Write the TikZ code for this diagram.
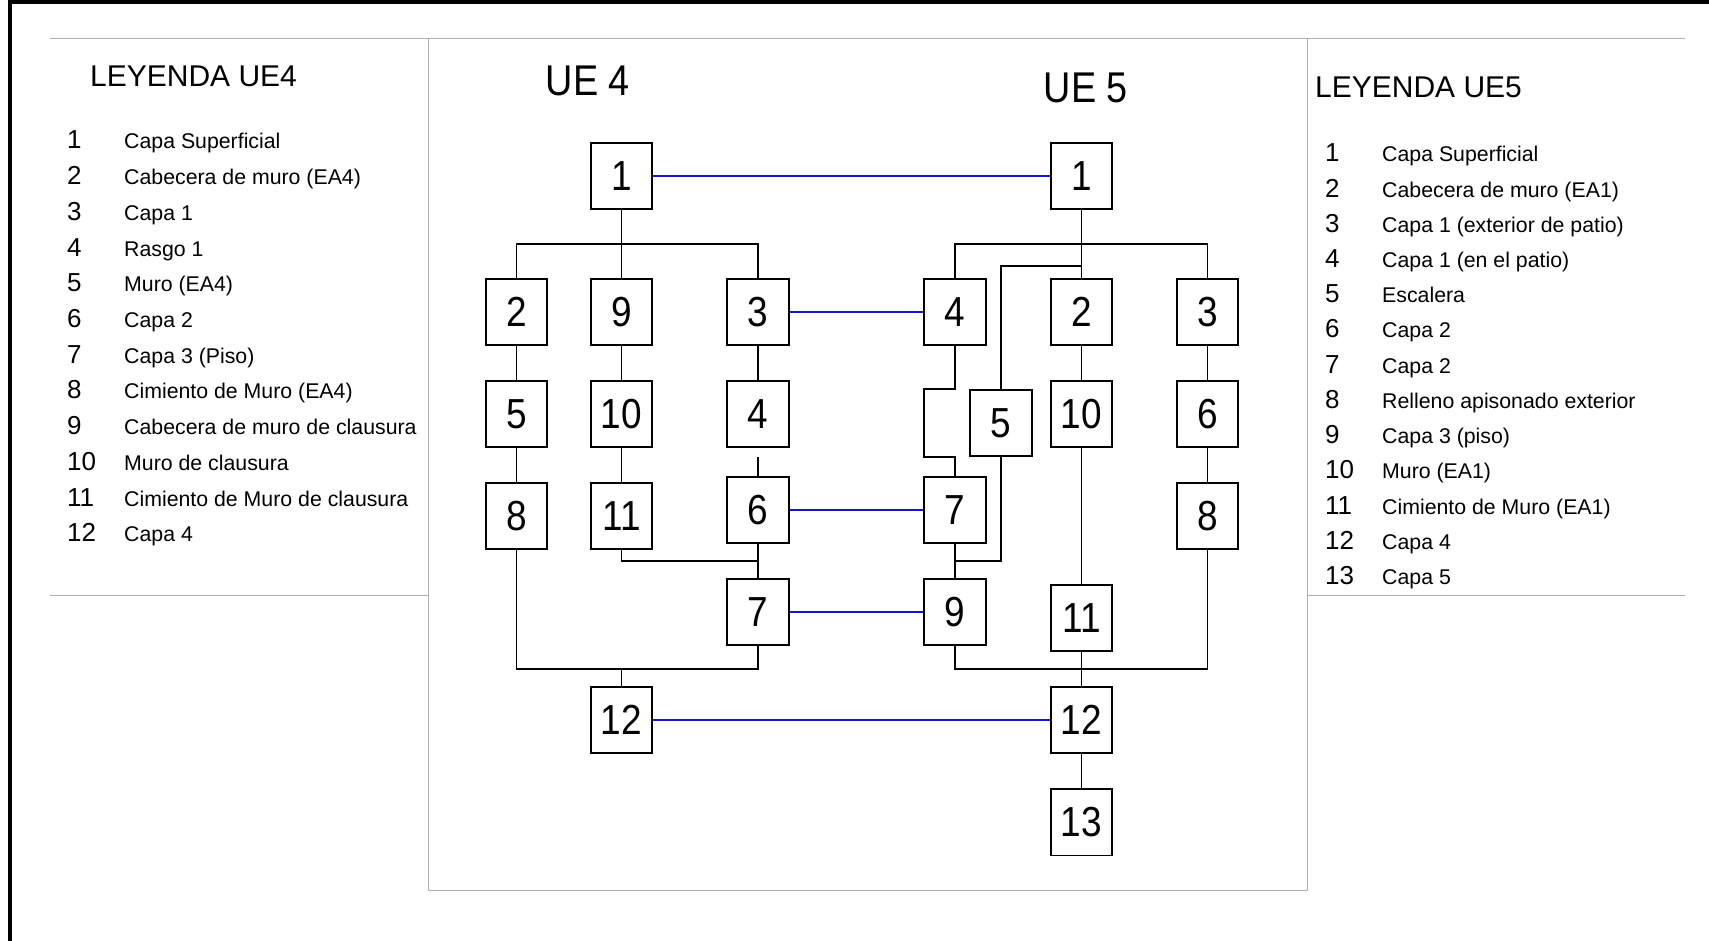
\documentclass[tikz,border=0pt]{standalone}
\usepackage{fontspec}
\setmainfont{Liberation Sans}
\newfontfamily\boxfont[FakeStretch=0.88]{Liberation Sans}
\usepackage{tikz}
\usetikzlibrary{positioning}
\definecolor{linkblue}{RGB}{20, 20, 200}
\definecolor{panelgray}{RGB}{175, 175, 175}
\newcommand{\legnum}[1]{\makebox[57pt][l]{\fontsize{26}{26}\selectfont #1}}

\begin{document}
\begin{tikzpicture}[
    x=1pt, y=-1pt,
    box/.style={draw=black, line width=1.6pt, fill=white, minimum width=61.5pt, minimum height=66.5pt, inner sep=0pt, font=\boxfont\fontsize{42}{42}\selectfont},
    ueTitle/.style={anchor=base, inner sep=0pt, font=\boxfont\fontsize{43}{43}\selectfont},
    legTitle/.style={anchor=base west, inner sep=0pt, font=\fontsize{30}{30}\selectfont},
    legItem/.style={anchor=base west, inner sep=0pt, font=\fontsize{21.3}{25}\selectfont},
    link/.style={draw=black, line width=1.6pt},
    tie/.style={draw=linkblue, line width=1.6pt},
    panel/.style={draw=panelgray, line width=1pt}
]
\useasboundingbox (0,0) rectangle (1709,941);

% Frame and panels
\draw[line width=4pt] (10,941) -- (10,2) -- (1709,2);
\draw[panel] (50,39) -- (1685,39);
\draw[panel] (50,595) -- (428,595);
\draw[panel] (1307,595) -- (1685,595);
\draw[panel] (428,39) -- (428,890) -- (1307,890) -- (1307,39);

% Legend UE4
\node[legTitle] (legA) at (90,87) {LEYENDA UE4};
\node[legItem] (la1) at (67,149) {\legnum{1}Capa Superficial};
\node[legItem] (la2) at (67,184.7) {\legnum{2}Cabecera de muro (EA4)};
\node[legItem] (la3) at (67,220.4) {\legnum{3}Capa 1};
\node[legItem] (la4) at (67,256.1) {\legnum{4}Rasgo 1};
\node[legItem] (la5) at (67,291.8) {\legnum{5}Muro (EA4)};
\node[legItem] (la6) at (67,327.5) {\legnum{6}Capa 2};
\node[legItem] (la7) at (67,363.2) {\legnum{7}Capa 3 (Piso)};
\node[legItem] (la8) at (67,398.9) {\legnum{8}Cimiento de Muro (EA4)};
\node[legItem] (la9) at (67,434.6) {\legnum{9}Cabecera de muro de clausura};
\node[legItem] (la10) at (67,470.3) {\legnum{10}Muro de clausura};
\node[legItem] (la11) at (67,506) {\legnum{11}Cimiento de Muro de clausura};
\node[legItem] (la12) at (67,541.7) {\legnum{12}Capa 4};

% Legend UE5
\node[legTitle] (legB) at (1315,98) {LEYENDA UE5};
\node[legItem] (lb1) at (1325,162) {\legnum{1}Capa Superficial};
\node[legItem] (lb2) at (1325,197.2) {\legnum{2}Cabecera de muro (EA1)};
\node[legItem] (lb3) at (1325,232.4) {\legnum{3}Capa 1 (exterior de patio)};
\node[legItem] (lb4) at (1325,267.6) {\legnum{4}Capa 1 (en el patio)};
\node[legItem] (lb5) at (1325,302.8) {\legnum{5}Escalera};
\node[legItem] (lb6) at (1325,338) {\legnum{6}Capa 2};
\node[legItem] (lb7) at (1325,373.2) {\legnum{7}Capa 2};
\node[legItem] (lb8) at (1325,408.4) {\legnum{8}Relleno apisonado exterior};
\node[legItem] (lb9) at (1325,443.6) {\legnum{9}Capa 3 (piso)};
\node[legItem] (lb10) at (1325,478.8) {\legnum{10}Muro (EA1)};
\node[legItem] (lb11) at (1325,514) {\legnum{11}Cimiento de Muro (EA1)};
\node[legItem] (lb12) at (1325,549.2) {\legnum{12}Capa 4};
\node[legItem] (lb13) at (1325,584.4) {\legnum{13}Capa 5};

% UE 4 matrix
\node[ueTitle] (titleA) at (588,96) {UE 4};
\node[box] (a1) at (621.5,176) {1};
\node[box] (a2) at (516.5,312) {2};
\node[box] (a9) at (621.5,312) {9};
\node[box] (a3) at (758,312) {3};
\node[box] (a5) at (516.5,414) {5};
\node[box] (a10) at (621.5,414) {10};
\node[box] (a4) at (758,414) {4};
\node[box] (a8) at (516.5,516) {8};
\node[box] (a11) at (621.5,516) {11};
\node[box] (a6) at (758,510) {6};
\node[box] (a7) at (758,612) {7};
\node[box] (a12) at (621.5,720) {12};
\coordinate (busA) at (621.5,244);
\coordinate (joinA) at (758,561);
\coordinate (busB) at (621.5,669);

\draw[link] (a1) -- (a9);
\draw[link] (a2.north) |- (busA) -| (a3.north);
\draw[link] (a2) -- (a5);
\draw[link] (a5) -- (a8);
\draw[link] (a9) -- (a10);
\draw[link] (a10) -- (a11);
\draw[link] (a3) -- (a4);
\draw[link, shorten <=9pt] (a4) -- (a6);
\draw[link] (a6) -- (a7);
\draw[link] (a11.south) |- (joinA);
\draw[link] (a8.south) |- (busB) -| (a7.south);
\draw[link] (busB) -- (a12);

% UE 5 matrix
\node[ueTitle] (titleB) at (1086,103) {UE 5};
\node[box] (b1) at (1081.5,176) {1};
\node[box] (b4) at (955,312) {4};
\node[box] (b2) at (1081.5,312) {2};
\node[box] (b3) at (1207.5,312) {3};
\node[box] (b5) at (1001,423) {5};
\node[box] (b10) at (1081.5,414) {10};
\node[box] (b6) at (1207.5,414) {6};
\node[box] (b7) at (955,510) {7};
\node[box] (b8) at (1207.5,516) {8};
\node[box] (b9) at (955,612) {9};
\node[box] (b11) at (1081.5,618) {11};
\node[box] (b12) at (1081.5,720) {12};
\node[box, below=34pt of b12] (b13) {13};
\coordinate (busC) at (1081.5,244);
\coordinate (joinB) at (1081.5,266);
\coordinate (joinC) at (955,561);
\coordinate (busD) at (1081.5,669);

\draw[link] (b1) -- (b2);
\draw[link] (b4.north) |- (busC) -| (b3.north);
\draw[link] (joinB) -| (b5.north);
\draw[link] (b4.south) |- ++(-31,43) |- ++(31,68) -- (b7.north);
\draw[link] (b5.south) |- (joinC);
\draw[link] (b2) -- (b10);
\draw[link] (b10) -- (b11);
\draw[link] (b3) -- (b6);
\draw[link] (b6) -- (b8);
\draw[link] (b7) -- (b9);
\draw[link] (b9.south) |- (busD) -| (b8.south);
\draw[link] (b11) -- (b12);
\draw[link] (b12) -- (b13);

% Correlations UE4 - UE5
\draw[tie] (a1) -- (b1);
\draw[tie] (a3) -- (b4);
\draw[tie] (a6) -- (b7);
\draw[tie] (a7) -- (b9);
\draw[tie] (a12) -- (b12);

\end{tikzpicture}
\end{document}
